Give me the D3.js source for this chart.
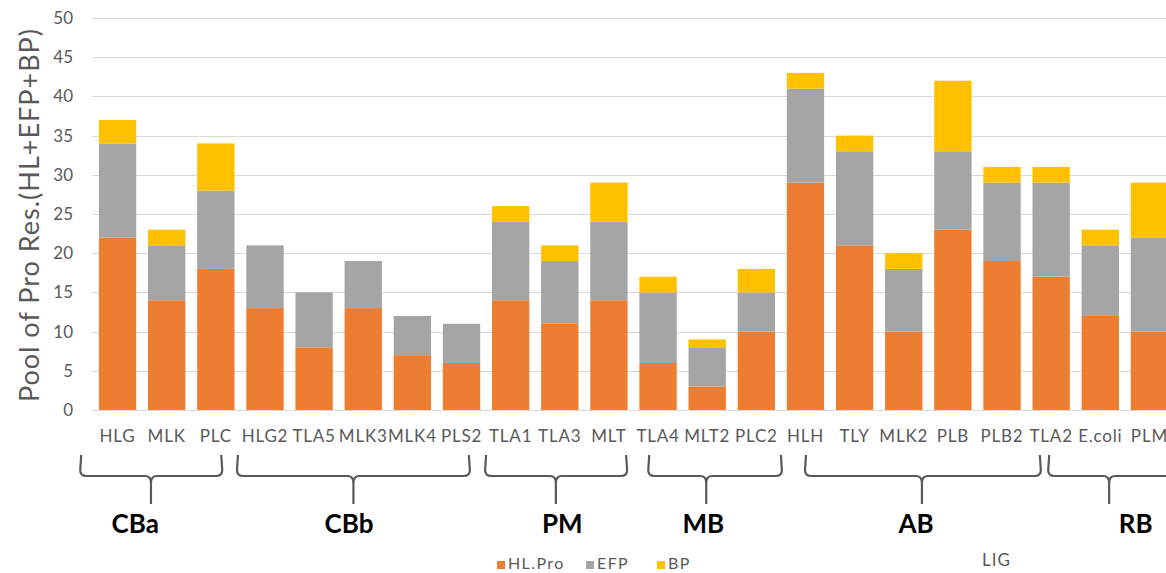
<!DOCTYPE html>
<html>
<head>
<meta charset="utf-8">
<script src="https://cdn.jsdelivr.net/npm/d3@7"></script>
<style>
  html, body { margin: 0; padding: 0; background: #fff; }
  svg { display: block; font-family: Lato, "Open Sans", sans-serif; }
</style>
</head>
<body>
<svg id="chart" width="1166" height="573"></svg>
<script>
const categories = ["HLG","MLK","PLC","HLG2","TLA5","MLK3","MLK4","PLS2","TLA1","TLA3","MLT","TLA4","MLT2","PLC2","HLH","TLY","MLK2","PLB","PLB2","TLA2","E.coli","PLM"];
const hlPro = [22,14,18,13,8,13,7,6,14,11,14,6,3,10,29,21,10,23,19,17,12,10];
const efp   = [12,7,10,8,7,6,5,5,10,8,10,9,5,5,12,12,8,10,10,12,9,12];
const bp    = [3,2,6,0,0,0,0,0,2,2,5,2,1,3,2,2,2,9,2,2,2,7];
const seriesNames = ["HL.Pro","EFP","BP"];
const yTicks = [0,5,10,15,20,25,30,35,40,45,50];
// group braces: span given in category-index units
const groupNames = ["CBa","CBb","PM","MB","AB","RB"];
const groupStart = [-0.76, 2.43, 7.48, 10.80, 13.99, 18.94];
const groupEnd   = [2.13, 7.17, 10.37, 13.52, 18.79, 21.5];
const groupStem  = [0.68, 4.80, 8.92, 11.98, 16.37, 20.18];
const groupLabel = [0.36, 4.71, 9.05, 11.92, 16.25, 20.72];

const colors = {"HL.Pro":"#ED7D31","EFP":"#A5A5A5","BP":"#FFC000"};
const textGrey = "#595959";

const svg = d3.select("#chart");
const x = d3.scaleBand().domain(categories).range([93, 1174]).paddingInner(0.24).paddingOuter(0.12);
const y = d3.scaleLinear().domain([0, 50]).range([410, 18]);
const idx = i => x(categories[0]) + x.bandwidth()/2 + i * x.step();

// gridlines
svg.append("g").selectAll("line").data(yTicks).join("line")
  .attr("x1", 92).attr("x2", 1166)
  .attr("y1", d => Math.round(y(d)) + 0.5).attr("y2", d => Math.round(y(d)) + 0.5)
  .attr("stroke", "#D9D9D9").attr("stroke-width", 1.2);

// y axis labels
const yAxis = d3.axisLeft(y).tickValues(yTicks).tickSize(0).tickPadding(0);
const ya = svg.append("g").attr("transform", "translate(73,0)").call(yAxis);
ya.select(".domain").remove();
ya.selectAll("text").attr("fill", textGrey).style("font-size", "17px").style("font-family", "Lato");

// y title
svg.append("text")
  .attr("transform", "translate(28,215) rotate(-90)")
  .attr("text-anchor", "middle").attr("dominant-baseline", "central")
  .attr("fill", textGrey).style("font-size", "27px").style("letter-spacing", "1px")
  .text("Pool of Pro Res.(HL+EFP+BP)");

// stacked bars
const table = categories.map((c, i) => ({cat: c, "HL.Pro": hlPro[i], "EFP": efp[i], "BP": bp[i]}));
const stack = d3.stack().keys(seriesNames)(table);
svg.append("g").selectAll("g").data(stack).join("g")
  .attr("fill", d => colors[d.key])
  .selectAll("rect").data(d => d).join("rect")
  .attr("x", d => x(d.data.cat))
  .attr("width", x.bandwidth())
  .attr("y", d => y(d[1]))
  .attr("height", d => y(d[0]) - y(d[1]));

// x labels
const xAxis = d3.axisBottom(x).tickSize(0).tickPadding(0);
const xa = svg.append("g").attr("transform", "translate(0,430)").call(xAxis);
xa.select(".domain").remove();
xa.selectAll("text").attr("fill", textGrey).style("font-size", "17px").style("font-family", "Lato")
  .style("letter-spacing", "0.8px").attr("dy", "0.71em");

// braces
const yTop = 455, yH = 476, yBot = 504;
const braces = svg.append("g").attr("fill", "none").attr("stroke", "#595959").attr("stroke-width", 2.2);
groupNames.forEach((g, i) => {
  const x1 = idx(groupStart[i]), x2 = idx(groupEnd[i]), xm = idx(groupStem[i]);
  const p = d3.path();
  p.moveTo(x1 + 1, yTop);
  p.lineTo(x1, yH - 6);
  p.quadraticCurveTo(x1, yH, x1 + 6, yH);
  p.lineTo(xm - 6, yH);
  p.quadraticCurveTo(xm, yH, xm, yH + 7);
  p.lineTo(xm, yBot);
  p.moveTo(x2 - 1, yTop);
  p.lineTo(x2, yH - 6);
  p.quadraticCurveTo(x2, yH, x2 - 6, yH);
  p.lineTo(xm + 6, yH);
  p.quadraticCurveTo(xm, yH, xm, yH + 7);
  braces.append("path").attr("d", p.toString());
  svg.append("text").attr("x", idx(groupLabel[i])).attr("y", 533)
    .attr("text-anchor", "middle").attr("fill", "#000")
    .style("font-size", "26px").style("font-weight", "bold")
    .text(g);
});

// legend
const legendX = [497, 586, 657];
const lg = svg.append("g");
seriesNames.forEach((s, i) => {
  lg.append("rect").attr("x", legendX[i]).attr("y", 561).attr("width", 8).attr("height", 8).attr("fill", colors[s]);
  lg.append("text").attr("x", legendX[i] + 11).attr("y", 569)
    .attr("fill", textGrey).style("font-size", "16px").style("letter-spacing", "1.4px").text(s);
});

svg.append("text").attr("x", 982).attr("y", 566)
  .attr("fill", textGrey).style("font-size", "17px").style("letter-spacing", "1px").text("LIG");
</script>
</body>
</html>
